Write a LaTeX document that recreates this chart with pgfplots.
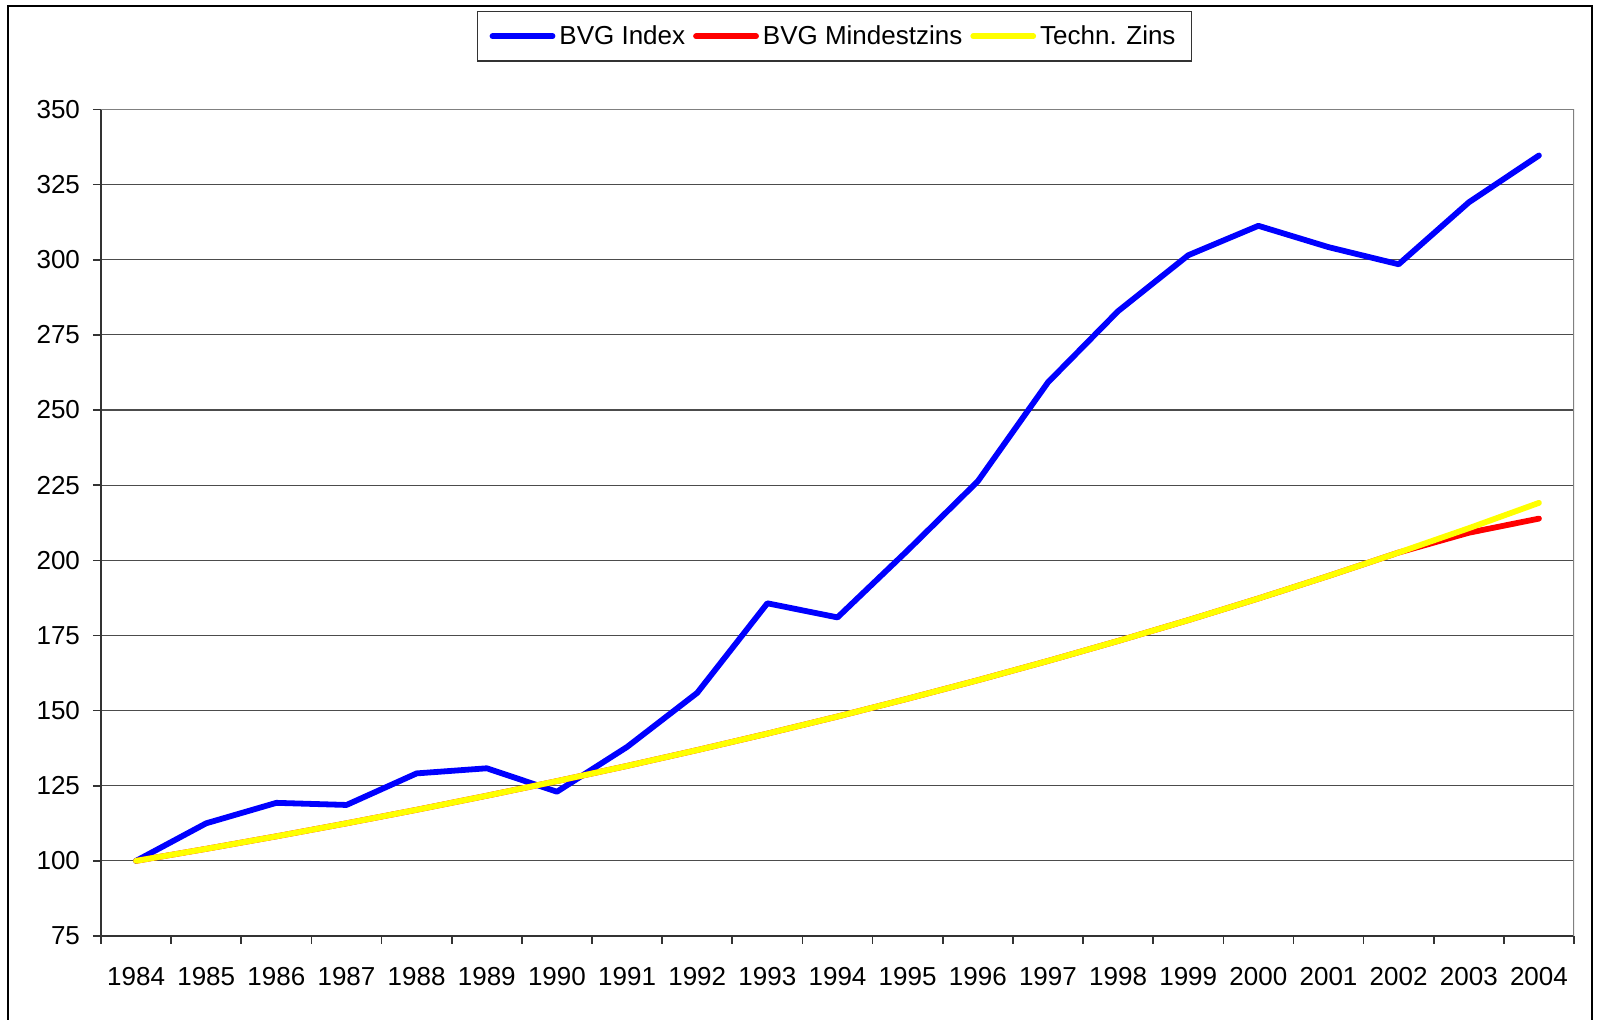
\documentclass[border=0pt]{standalone}
\usepackage{pgfplots}
\usepackage{pgfplotstable}
\pgfplotsset{compat=1.18}
\usepackage{fontspec}
\setmainfont{Liberation Sans}

% x = 0 is 1984
\pgfplotstableread{
x idx mind tech
0  100.0 100.00 100.00
1  112.5 104.00 104.00
2  119.3 108.16 108.16
3  118.6 112.49 112.49
4  129.1 116.99 116.99
5  130.8 121.67 121.67
6  123.0 126.53 126.53
7  137.9 131.59 131.59
8  155.9 136.86 136.86
9  185.7 142.33 142.33
10 181.0 148.02 148.02
11 203.3 153.95 153.95
12 226.3 160.10 160.10
13 259.2 166.51 166.51
14 282.9 173.17 173.17
15 301.5 180.09 180.09
16 311.3 187.30 187.30
17 304.2 194.79 194.79
18 298.5 202.58 202.58
19 319.1 209.17 210.68
20 334.7 213.87 219.11
}\bvg

\begin{document}
\begin{tikzpicture}
\useasboundingbox (-50.5pt,-42pt) rectangle (748.5pt,468pt);
\begin{axis}[
  at={(0pt,0pt)}, anchor=south west,
  scale only axis, width=736.5pt, height=413.25pt,
  xmin=-0.5, xmax=20.5, ymin=75, ymax=350,
  axis x line*=bottom, axis y line*=left,
  axis line style={black!80, line width=1pt},
  tick align=outside, major tick length=4pt,
  tick style={black!80, line width=0.8pt},
  xtick={-0.5,0.5,...,20.5},
  xticklabels={1984,1985,1986,1987,1988,1989,1990,1991,1992,1993,1994,1995,1996,1997,1998,1999,2000,2001,2002,2003,2004,{}},
  xticklabel style={xshift=17.536pt, yshift=-8pt},
  ytick={75,100,...,350},
  yticklabel style={xshift=-3pt},
  ymajorgrids, major grid style={black!70, line width=0.6pt},
  tick label style={font=\fontsize{13}{15.6}\selectfont},
  /pgf/number format/assume math mode=true,
  legend columns=-1,
  legend style={at={(0.498,1)}, anchor=south, yshift=23.75pt,
    draw=black!80, line width=0.8pt, inner xsep=6pt, inner ysep=5pt,
    font=\fontsize{13}{15.6}\selectfont,
    /tikz/every even column/.append style={column sep=2pt}},
  legend image code/.code={\draw[#1, line cap=round] (0pt,0pt) -- (30pt,0pt);},
  every axis plot/.append style={line width=2.9pt, line join=round, line cap=round},
]
\addplot[color={rgb,255:red,0;green,0;blue,255}] table[x=x, y=idx] {\bvg};
\addplot[color={rgb,255:red,255;green,0;blue,0}] table[x=x, y=mind] {\bvg};
\addplot[color={rgb,255:red,255;green,255;blue,0}] table[x=x, y=tech] {\bvg};
\legend{BVG Index, BVG Mindestzins, Techn. Zins}
\draw[black!50, line width=1pt] (rel axis cs:0,1) -- (rel axis cs:1,1) -- (rel axis cs:1,0);
\end{axis}
\draw[black, line width=1pt] (-46.5pt,-42pt) -- (-46.5pt,465pt) -- (745.5pt,465pt) -- (745.5pt,-42pt);
\end{tikzpicture}
\end{document}
